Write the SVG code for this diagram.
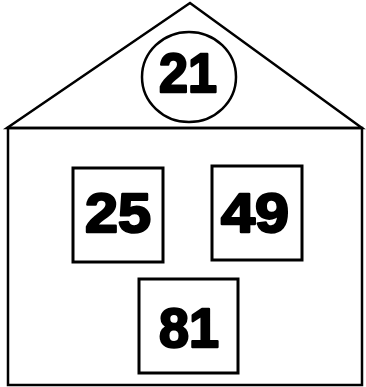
<svg xmlns="http://www.w3.org/2000/svg" width="366" height="387" viewBox="0 0 366 387">
<style>
.ln{fill:none;stroke:#000;stroke-width:2.5}
.bx{fill:#fff;stroke:#000;stroke-width:3}
.t{font-family:"Liberation Sans",Arial,sans-serif;font-weight:bold;font-size:56px;fill:#000;stroke:#000;stroke-width:2.4;stroke-linejoin:round;text-anchor:middle}
</style>
<rect width="366" height="387" fill="#fff"/>
<g id="roof"><polygon class="ln" points="190,3 7,128 362,128"/></g>
<g id="wall"><rect class="ln" x="8" y="128" width="354" height="257"/></g>
<g id="n21"><ellipse class="ln" cx="189" cy="77" rx="47" ry="45"/><text class="t" x="188" y="92" textLength="58" lengthAdjust="spacingAndGlyphs">21</text></g>
<g id="n25"><rect class="bx" x="73" y="168" width="90" height="94"/><text class="t" x="118" y="232" textLength="66" lengthAdjust="spacingAndGlyphs">25</text></g>
<g id="n49"><rect class="bx" x="212" y="166" width="90" height="94"/><text class="t" x="255" y="232" textLength="68" lengthAdjust="spacingAndGlyphs">49</text></g>
<g id="n81"><rect class="bx" x="139" y="279" width="99" height="94"/><text class="t" x="189" y="347" textLength="60" lengthAdjust="spacingAndGlyphs">81</text></g>
<g id="connectors"></g>
</svg>
